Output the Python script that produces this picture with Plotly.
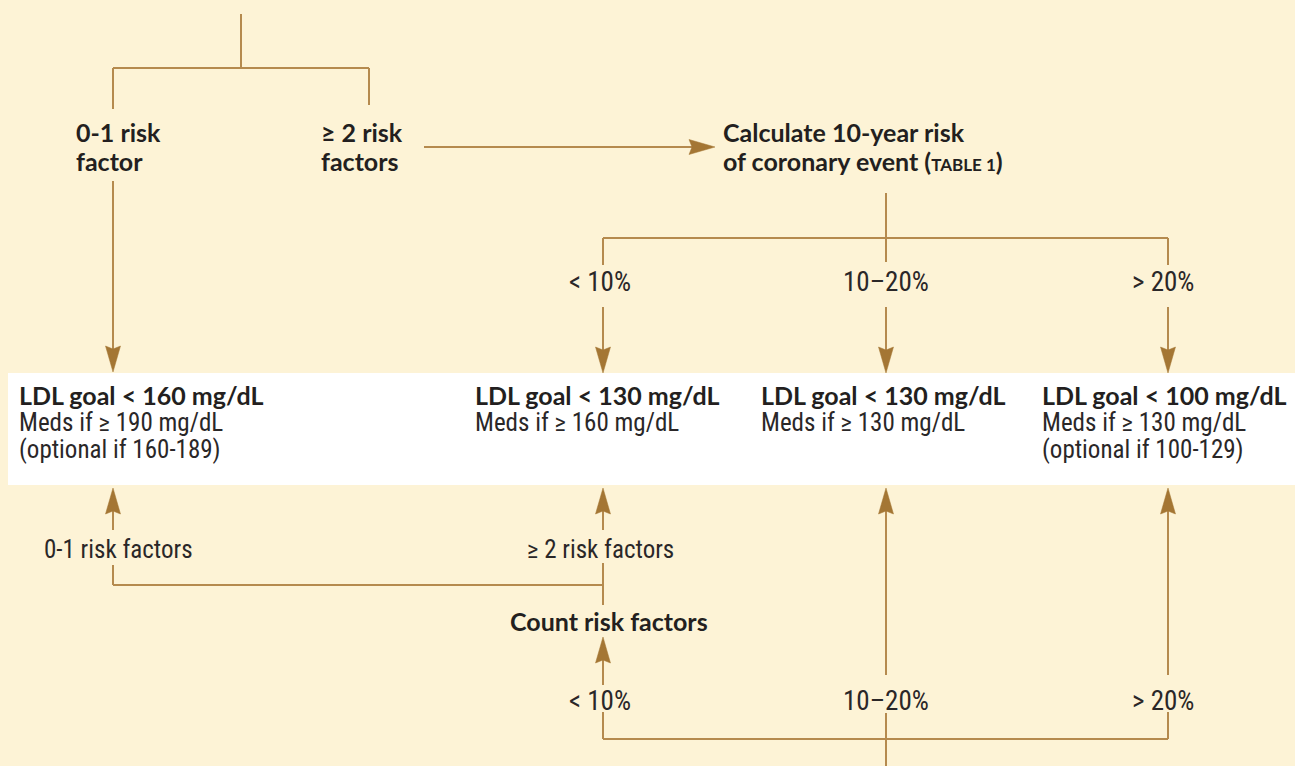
import plotly.graph_objects as go

# ---------------- data (texts of the flowchart) ----------------
top_branches = [["0-1 risk", "factor"], ["≥ 2 risk", "factors"]]
calc_lines = ["Calculate 10-year risk", "of coronary event (<span style='font-size:17px'>TABLE 1</span>)"]
risk_ranges = ["< 10%", "10–20%", "> 20%"]
ldl_goals = ["LDL goal < 160 mg/dL", "LDL goal < 130 mg/dL", "LDL goal < 130 mg/dL", "LDL goal < 100 mg/dL"]
meds_lines = ["Meds if ≥ 190 mg/dL", "Meds if ≥ 160 mg/dL", "Meds if ≥ 130 mg/dL", "Meds if ≥ 130 mg/dL"]
optional_lines = ["(optional if 160-189)", "", "", "(optional if 100-129)"]
count_labels = ["0-1 risk factors", "≥ 2 risk factors"]
count_title = "Count risk factors"

# ---------------- layout constants ----------------
W, H = 1295, 766
BG = "#FDF3D6"
LINE = "#B58A4E"
HEAD = "#A47634"
TXT = "#231F20"
BOLD_FONT = dict(family="Lato", size=25, color=TXT, weight="bold")
REG_FONT = dict(family="Roboto Condensed", size=25, color="#2A2728")
PCT_FONT = dict(family="Roboto Condensed", size=27, color="#2A2728")
LW = 2
PADX = 3  # annotation box padding to compensate for left-anchored texts

fig = go.Figure()
shapes = []


def seg(x0, y0, x1, y1):
    shapes.append(dict(type="line", x0=x0, y0=y0, x1=x1, y1=y1, xref="x", yref="y",
                       line=dict(color=LINE, width=LW), layer="above"))


def head(x, y, direction, length=26, half=7.5, notch=3):
    if direction == "down":
        pts = [(x, y), (x - half, y - length), (x, y - length + notch), (x + half, y - length)]
    elif direction == "up":
        pts = [(x, y), (x - half, y + length), (x, y + length - notch), (x + half, y + length)]
    else:
        pts = [(x, y), (x - length, y - half), (x - length + notch, y), (x - length, y + half)]
    path = "M " + " L ".join(f"{px},{py}" for px, py in pts) + " Z"
    shapes.append(dict(type="path", path=path, xref="x", yref="y", fillcolor=HEAD,
                       line=dict(color=HEAD, width=0.5), layer="above"))


def arrow(x0, y0, x1, y1, direction):
    if direction == "down":
        seg(x0, y0, x1, y1 - 20)
    elif direction == "up":
        seg(x0, y0, x1, y1 + 20)
    else:
        seg(x0, y0, x1 - 20, y1)
    head(x1, y1, direction)


def text(x, y, s, font, anchor="left"):
    if anchor == "left":
        x -= PADX
    fig.add_annotation(x=x, y=y, xref="x", yref="y", text=s, showarrow=False,
                       xanchor=anchor, yanchor="middle", font=font)


# white band with the LDL goals
shapes.append(dict(type="rect", x0=8, x1=W, y0=373, y1=485, xref="x", yref="y",
                   fillcolor="white", line=dict(width=0), layer="below"))

# ---- top tree ----
XL, XR2 = 113, 369
seg(241, 14, 241, 68)
seg(XL, 68, XR2, 68)
seg(XL, 68, XL, 109)
seg(XR2, 68, XR2, 105)
branch_x = [77, 322]
for bx, lines in zip(branch_x, top_branches):
    text(bx, 132, lines[0], BOLD_FONT)
    text(bx, 161, lines[1], BOLD_FONT)
arrow(XL, 181, XL, 372, "down")
arrow(424, 147, 715, 147, "right")
text(724, 132, calc_lines[0], BOLD_FONT)
text(724, 161, calc_lines[1], BOLD_FONT)

# ---- risk split (upper) ----
col_x = [603, 886, 1168]
seg(886, 193, 886, 262)
seg(col_x[0], 238, col_x[2], 238)
seg(col_x[0], 238, col_x[0], 265)
seg(col_x[2], 238, col_x[2], 265)
label_dx = [-3, 0, -5]
for cx, lab, dx in zip(col_x, risk_ranges, label_dx):
    text(cx + dx, 282, lab, PCT_FONT, "center")
    arrow(cx, 307, cx, 373, "down")

# ---- LDL goal boxes ----
box_x = [20, 476, 762, 1043]
for bx, g, m, o in zip(box_x, ldl_goals, meds_lines, optional_lines):
    text(bx, 395, g, BOLD_FONT)
    text(bx, 422, m, REG_FONT)
    if o:
        text(bx, 449, o, REG_FONT)

# ---- lower part: count risk factors ----
arrow(XL, 530, XL, 488, "up")
seg(XL, 565, XL, 585)
seg(XL, 585, col_x[0], 585)
text(45, 549, count_labels[0], REG_FONT)
text(600, 549, count_labels[1], REG_FONT, "center")
arrow(col_x[0], 530, col_x[0], 488, "up")
seg(col_x[0], 563, col_x[0], 605)
text(609, 621, count_title, BOLD_FONT, "center")
arrow(col_x[0], 685, col_x[0], 637, "up")
for cx, lab, dx in zip(col_x, risk_ranges, label_dx):
    text(cx + dx, 701, lab, PCT_FONT, "center")
seg(col_x[0], 712, col_x[0], 739)
seg(col_x[2], 712, col_x[2], 739)
seg(col_x[0], 739, col_x[2], 739)
seg(886, 713, 886, H)
arrow(886, 675, 886, 488, "up")
arrow(col_x[2], 675, col_x[2], 488, "up")

fig.update_layout(shapes=shapes)
fig.update_xaxes(range=[0, W], visible=False, fixedrange=True)
fig.update_yaxes(range=[H, 0], visible=False, fixedrange=True)
fig.update_layout(width=W, height=H, margin=dict(l=0, r=0, t=0, b=0, pad=0),
                  plot_bgcolor=BG, paper_bgcolor=BG, showlegend=False)
fig.write_html("out.html", config={"displayModeBar": False},
               post_script="document.body.style.margin='0';document.body.style.background='" + BG + "';")
